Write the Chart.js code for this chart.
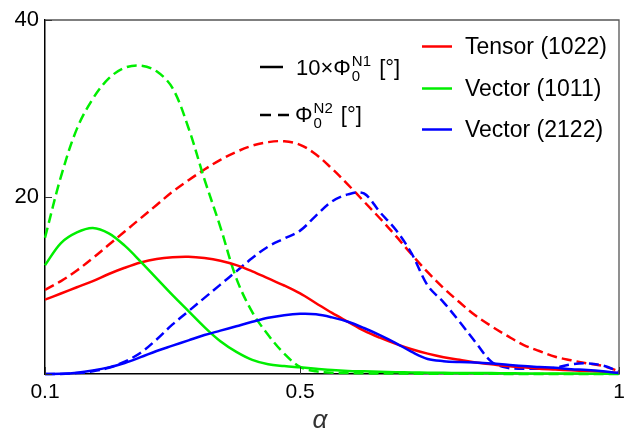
<!DOCTYPE html>
<html>
<head>
<meta charset="utf-8">
<script src="https://cdn.jsdelivr.net/npm/chart.js@4/dist/chart.umd.min.js"></script>
<style>
  html, body { margin: 0; padding: 0; background: #fff; }
  #wrap { width: 641px; height: 433px; }
</style>
</head>
<body>
<div id="wrap"><canvas id="c" width="641" height="433"></canvas></div>
<script>
// ---- data ----
const alpha = [0.1,0.125,0.15,0.175,0.2,0.225,0.25,0.275,0.3,0.325,0.35,0.375,0.4,0.425,0.45,0.475,0.5,0.525,0.55,0.575,0.6,0.625,0.65,0.675,0.7,0.725,0.75,0.775,0.8,0.825,0.85,0.875,0.9,0.925,0.95,0.975,1.0];

const tensorN1 = [8.4,9.1,9.8,10.5,11.3,12.0,12.6,13.0,13.2,13.25,13.1,12.8,12.3,11.6,10.8,10.0,9.1,8.0,6.9,5.9,4.9,4.1,3.4,2.8,2.3,1.9,1.6,1.3,1.1,0.9,0.75,0.6,0.5,0.42,0.33,0.24,0.1];
const vector1011N1 = [12.3,14.8,16.0,16.5,15.9,14.5,12.7,10.8,8.9,7.1,5.3,3.7,2.5,1.6,1.1,0.9,0.75,0.6,0.45,0.35,0.3,0.25,0.2,0.18,0.15,0.13,0.12,0.1,0.1,0.08,0.07,0.06,0.05,0.05,0.04,0.03,0.02];
const vector2122N1 = [0,0.02,0.15,0.4,0.75,1.25,1.9,2.6,3.2,3.8,4.4,4.9,5.4,5.9,6.35,6.65,6.8,6.75,6.4,5.9,5.2,4.4,3.5,2.5,1.7,1.45,1.35,1.3,1.2,1.05,0.9,0.8,0.7,0.55,0.45,0.3,0.1];

const tensorN2 = [9.5,10.5,11.7,13.1,14.6,16.1,17.6,19.1,20.6,21.9,23.1,24.2,25.1,25.8,26.2,26.3,25.9,24.8,23.2,21.4,19.5,17.6,15.6,13.5,11.5,9.7,8.1,6.6,5.4,4.3,3.3,2.6,1.95,1.55,1.2,0.9,0.3];
const vector1011N2 = [15.4,22.3,27.7,31.1,33.4,34.6,34.85,34.2,32.3,27.8,22.0,16.6,10.8,7.0,4.4,2.3,0.8,0.3,0.15,0.1,0.08,0.06,0.05,0.04,0.03,0.03,0.02,0.02,0.02,0.01,0.01,0.01,0.01,0.01,0.01,0.01,0.0];
const vector2122N2 = [0,0,0.1,0.3,0.7,1.4,2.4,3.9,5.6,7.1,8.6,10.1,11.6,13.1,14.4,15.3,16.2,17.9,19.5,20.3,20.4,18.3,16.3,13.6,10.0,8.1,5.9,3.6,1.4,0.7,0.6,0.6,0.7,1.1,1.2,0.95,0.3];

const xTicks = [0.1, 0.5, 1];
const yTicks = [0, 20, 40];
const seriesNames = ['Tensor (1022)', 'Vector (1011)', 'Vector (2122)'];
const seriesColors = ['#ff0000', '#00ee00', '#0000ff'];
const xTitle = 'α';

const FONT = '"Liberation Sans", Arial, Helvetica, sans-serif';

function pts(vals) { return alpha.map((a, i) => ({ x: a, y: vals[i] })); }

function ds(label, vals, color, dashed) {
  return {
    label: label,
    data: pts(vals),
    borderColor: color,
    backgroundColor: color,
    borderWidth: 2.5,
    borderDash: dashed ? [10, 5] : [],
    pointRadius: 0,
    fill: false,
    tension: 0.35,
    clip: 2
  };
}

const datasets = [
  ds(seriesNames[2] + ' N1', vector2122N1, seriesColors[2], false),
  ds(seriesNames[1] + ' N1', vector1011N1, seriesColors[1], false),
  ds(seriesNames[0] + ' N1', tensorN1, seriesColors[0], false),
  ds(seriesNames[2] + ' N2', vector2122N2, seriesColors[2], true),
  ds(seriesNames[1] + ' N2', vector1011N2, seriesColors[1], true),
  ds(seriesNames[0] + ' N2', tensorN2, seriesColors[0], true)
];

const framePlugin = {
  id: 'frame',
  afterDraw(chart) {
    const ctx = chart.ctx;
    const a = chart.chartArea;
    const xs = chart.scales.x, ys = chart.scales.y;
    ctx.save();
    // top and right frame
    ctx.strokeStyle = '#555';
    ctx.lineWidth = 1.3;
    ctx.beginPath();
    ctx.moveTo(a.left, a.top); ctx.lineTo(a.right, a.top); ctx.lineTo(a.right, a.bottom);
    ctx.stroke();
    // inner ticks
    ctx.strokeStyle = '#333';
    ctx.lineWidth = 1;
    xTicks.forEach(v => {
      const px = Math.round(xs.getPixelForValue(v)) + 0.5;
      ctx.beginPath(); ctx.moveTo(px, a.bottom); ctx.lineTo(px, a.bottom - 7); ctx.stroke();
    });
    yTicks.forEach(v => {
      const py = Math.round(ys.getPixelForValue(v)) + 0.5;
      ctx.beginPath(); ctx.moveTo(a.left, py); ctx.lineTo(a.left + 7, py); ctx.stroke();
    });

    // x axis title
    ctx.fillStyle = '#333';
    ctx.textAlign = 'center';
    ctx.textBaseline = 'alphabetic';
    ctx.font = 'italic 26px ' + FONT;
    ctx.fillText(xTitle, 320, 428);

    // colour legend
    ctx.textAlign = 'left';
    ctx.font = '23px ' + FONT;
    const legY = [54, 96, 137];
    seriesNames.forEach((n, i) => {
      ctx.strokeStyle = seriesColors[i];
      ctx.lineWidth = 2.5;
      ctx.setLineDash([]);
      ctx.beginPath(); ctx.moveTo(422, legY[i] - 7.5); ctx.lineTo(452, legY[i] - 7.5); ctx.stroke();
      ctx.fillStyle = '#000';
      ctx.fillText(n, 465, legY[i]);
    });

    // line-style legend
    ctx.strokeStyle = '#000';
    ctx.lineWidth = 2.5;
    ctx.beginPath(); ctx.moveTo(260, 67); ctx.lineTo(283, 67); ctx.stroke();
    ctx.setLineDash([11, 7]);
    ctx.beginPath(); ctx.moveTo(260, 115); ctx.lineTo(290, 115); ctx.stroke();
    ctx.setLineDash([]);

    function phiLabel(prefix, sup, x, y) {
      ctx.fillStyle = '#000';
      ctx.font = '22px ' + FONT;
      ctx.fillText(prefix, x, y);
      let cx = x + ctx.measureText(prefix).width + 1;
      ctx.font = '15px ' + FONT;
      ctx.fillText('0', cx, y + 6);
      ctx.fillText(sup, cx, y - 9);
      const w = Math.max(ctx.measureText('0').width, ctx.measureText(sup).width);
      cx += w;
      ctx.font = '22px ' + FONT;
      ctx.fillText(' [°]', cx + 2, y);
    }
    phiLabel('10×Φ', 'N1', 296, 75);
    phiLabel('Φ', 'N2', 295, 122);
    ctx.restore();
  }
};

new Chart(document.getElementById('c'), {
  type: 'line',
  data: { datasets: datasets },
  plugins: [framePlugin],
  options: {
    responsive: false,
    animation: false,
    layout: { padding: { top: 20, right: 22, left: 0, bottom: 0 } },
    plugins: { legend: { display: false }, tooltip: { enabled: false } },
    scales: {
      x: {
        type: 'linear',
        min: 0.1, max: 1,
        afterBuildTicks: s => { s.ticks = xTicks.map(v => ({ value: v })); },
        afterFit: s => { s.height = 59; },
        grid: { display: false, drawTicks: false },
        border: { display: true, color: '#000', width: 1.5 },
        ticks: {
          color: '#000', padding: 6,
          font: { family: FONT, size: 21 },
          callback: v => String(v),
          maxRotation: 0
        },
        title: { display: false }
      },
      y: {
        type: 'linear',
        min: 0, max: 40,
        afterBuildTicks: s => { s.ticks = yTicks.map(v => ({ value: v })); },
        afterFit: s => { s.width = 45; },
        grid: { display: false, drawTicks: false },
        border: { display: true, color: '#000', width: 1.5 },
        ticks: {
          color: '#000', padding: 6,
          font: { family: FONT, size: 22 },
          callback: v => (v === 0 ? '' : String(v))
        }
      }
    }
  }
});
</script>
</body>
</html>
